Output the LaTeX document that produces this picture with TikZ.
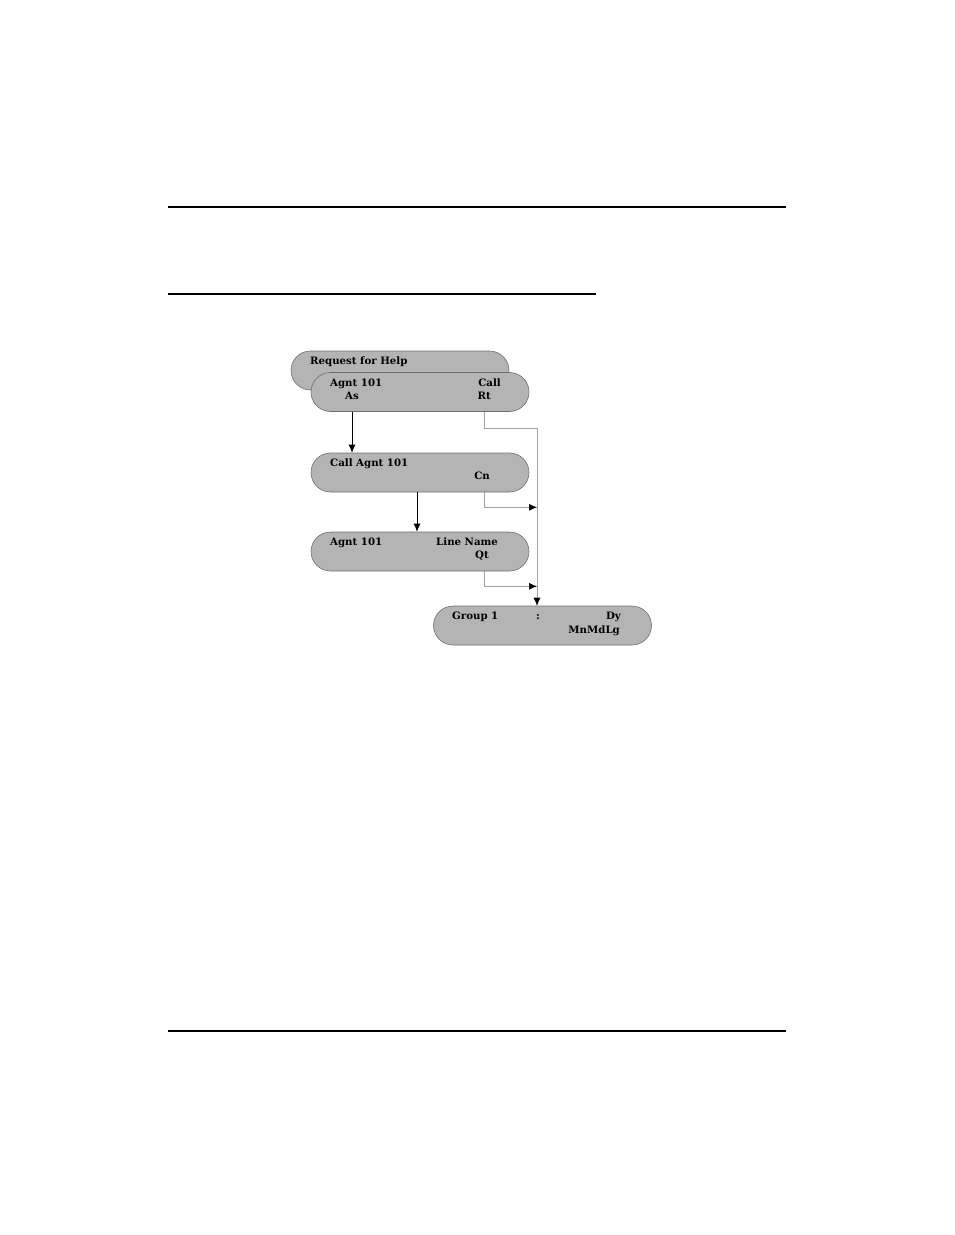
\documentclass[tikz,border=0pt]{standalone}
\usepackage{fontspec}
\setmainfont{DejaVu Serif}
\usetikzlibrary{positioning, calc, shapes.misc, arrows.meta}

\definecolor{boxgray}{RGB}{180,180,180}
\definecolor{edgegray}{RGB}{110,110,110}
\definecolor{linkgray}{RGB}{160,160,160}

\begin{document}
\begin{tikzpicture}[
    x=1pt, y=-1pt,
    % 定义样式
    menu/.style={draw=edgegray, fill=boxgray, rounded rectangle, minimum width=218pt, minimum height=39pt, inner sep=0pt, line width=0.6pt},
    txt/.style={inner sep=0pt, font=\bfseries\fontsize{10.2}{12}\selectfont},
    rule/.style={line width=2pt},
    step arrow/.style={-{Latex[length=8pt, width=7pt]}, line width=0.8pt},
    link/.style={draw=linkgray, line width=0.6pt},
    link arrow/.style={link, -{Latex[length=8pt, width=7pt, fill=black, color=black]}}
]
\useasboundingbox (0,0) rectangle (954,1235);

% --- 页面横线 ---
\draw[rule] (168,207) -- (786,207);
\draw[rule] (168,294) -- (596,294);
\draw[rule] (168,1031) -- (786,1031);

% --- 菜单框 ---
\node[menu] (req) at (400,370.5) {};
\node[menu] (asgn) at (420,392) {};
\node[menu] (call) at (420,472.5) {};
\node[menu] (line) at (420,551.5) {};
\node[menu] (grp) at (542.5,625.5) {};

% --- 文字 ---
\node[txt, anchor=base west] (req-t) at (310,364) {Request for Help};
\node[txt, anchor=base west] (asgn-t) at (330,386) {Agnt 101};
\node[txt, anchor=base east] (asgn-r) at (501,386) {Call};
\node[txt, anchor=base west] (asgn-a) at (345,399) {As};
\node[txt, anchor=base east] (asgn-k) at (491,399) {Rt};

\node[txt, anchor=base west] (call-t) at (330,466) {Call Agnt 101};
\node[txt, anchor=base east] (call-k) at (490,479) {Cn};

\node[txt, anchor=base west] (line-t) at (330,545) {Agnt 101};
\node[txt, anchor=base west] (line-r) at (436,545) {Line Name};
\node[txt, anchor=base east] (line-k) at (489,558) {Qt};

\node[txt, anchor=base west] (grp-t) at (452,619) {Group 1};
\node[txt, anchor=base] (grp-c) at (538,619) {:};
\node[txt, anchor=base east] (grp-r) at (621,619) {Dy};
\node[txt, anchor=base east] (grp-k) at (620,633) {MnMdLg};

% --- 连接线 ---
\coordinate (tap) at (484,0);
\coordinate (bus) at (537,428);

\draw[step arrow] (asgn.south -| 352,0) -- (call.north -| 352,0);
\draw[step arrow] (call.south -| 417,0) -- (line.north -| 417,0);

\draw[link] (asgn.south -| tap) |- (bus);
\draw[link arrow] (bus) -- (grp.north -| bus);
\draw[link arrow] (call.south -| tap) |- ([yshift=-15pt]call.south -| bus);
\draw[link arrow] (line.south -| tap) |- ([yshift=-15pt]line.south -| bus);

\end{tikzpicture}
\end{document}
